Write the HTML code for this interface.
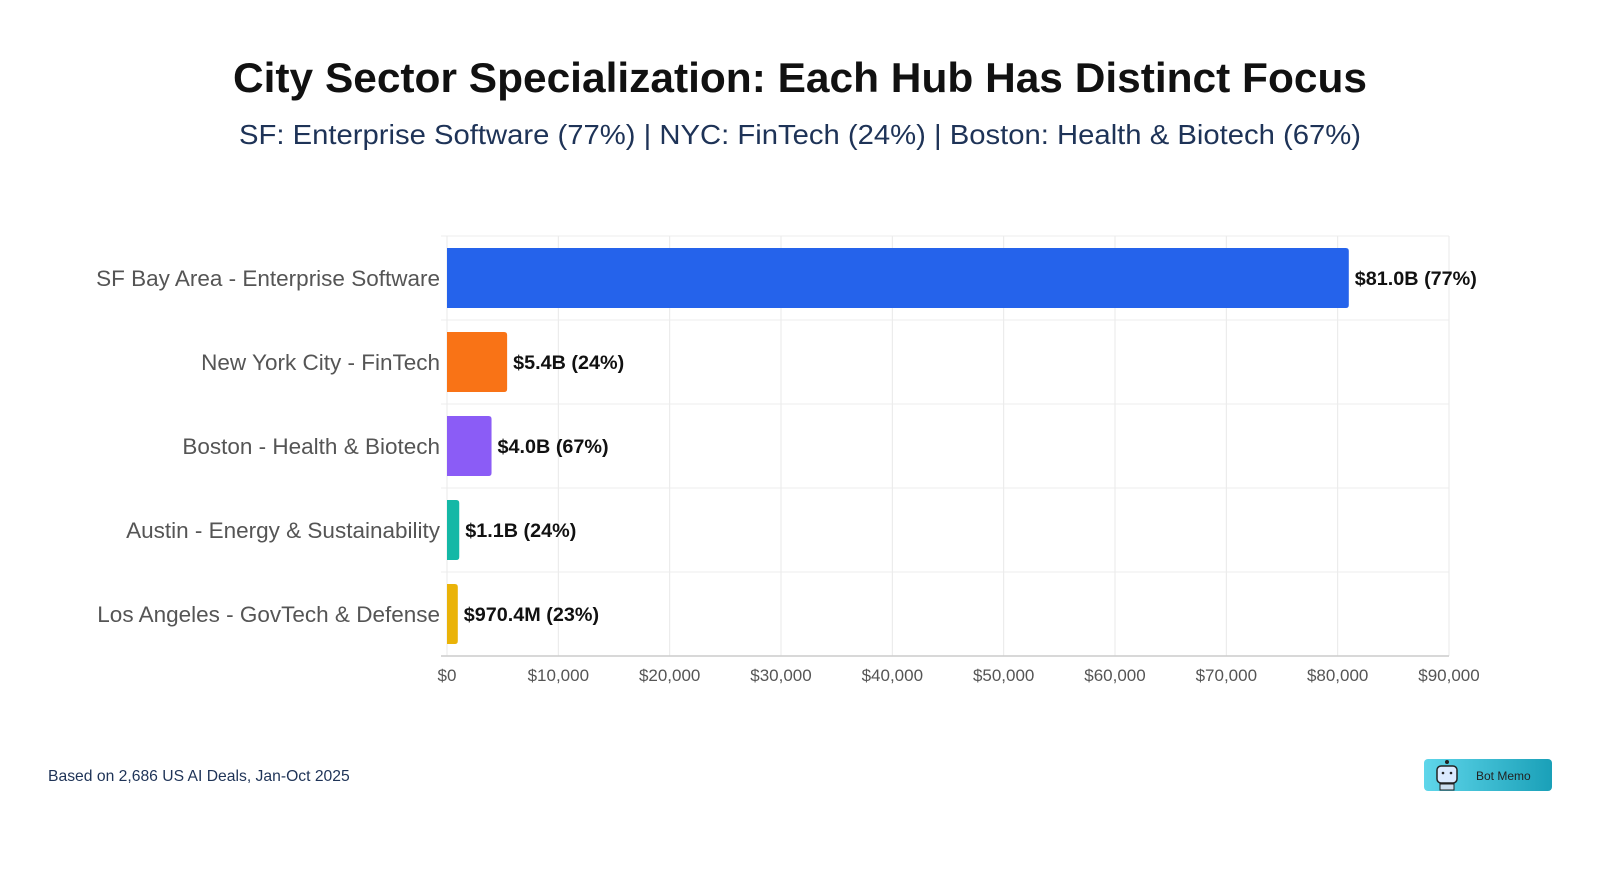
<!DOCTYPE html>
<html><head><meta charset="utf-8"><style>
body{margin:0;background:#fff;width:1600px;height:880px;overflow:hidden;font-family:"Liberation Sans",sans-serif}
</style></head><body>
<svg id="chart" width="1600" height="880" xmlns="http://www.w3.org/2000/svg">
<text x="800" y="92" text-anchor="middle" font-size="42" font-weight="bold" fill="#111" textLength="1134" lengthAdjust="spacingAndGlyphs">City Sector Specialization: Each Hub Has Distinct Focus</text>
<text x="800" y="144" text-anchor="middle" font-size="28" fill="#1e3357" textLength="1122" lengthAdjust="spacingAndGlyphs">SF: Enterprise Software (77%) | NYC: FinTech (24%) | Boston: Health &amp; Biotech (67%)</text>
<g id="grid"></g>
<g id="bars"></g>
<g id="xaxis"></g>
<text x="48" y="781" font-size="15.7" fill="#1e3357">Based on 2,686 US AI Deals, Jan-Oct 2025</text>
<g>
<defs><linearGradient id="bg" x1="0" x2="1"><stop offset="0" stop-color="#5fd6ea"/><stop offset="1" stop-color="#1aa0b8"/></linearGradient></defs>
<rect x="1424" y="759" width="128" height="32" rx="4" fill="url(#bg)"/>
<rect x="1437" y="766" width="20" height="17" rx="4" fill="#dbeaff" stroke="#222" stroke-width="1.5"/>
<circle cx="1447" cy="762" r="2" fill="#222"/>
<circle cx="1443" cy="773" r="1.3" fill="#222"/><circle cx="1451" cy="773" r="1.3" fill="#222"/>
<rect x="1440" y="784" width="14" height="6" fill="#cde" stroke="#222" stroke-width="1"/>
<text x="1476" y="780" font-size="12" fill="#222">Bot Memo</text>
</g>
</svg>
<script>
const categories=["SF Bay Area - Enterprise Software","New York City - FinTech","Boston - Health & Biotech","Austin - Energy & Sustainability","Los Angeles - GovTech & Defense"];
const values=[81000,5400,4000,1100,970.4];
const valueLabels=["$81.0B (77%)","$5.4B (24%)","$4.0B (67%)","$1.1B (24%)","$970.4M (23%)"];
const colors=["#2563eb","#f97316","#8b5cf6","#14b8a6","#eab308"];
const ticks=[0,10000,20000,30000,40000,50000,60000,70000,80000,90000];
const tickLabels=["$0","$10,000","$20,000","$30,000","$40,000","$50,000","$60,000","$70,000","$80,000","$90,000"];
const NS="http://www.w3.org/2000/svg";
const X0=447,X1=1449,Y0=236,Y1=656,band=(Y1-Y0)/categories.length,pad=12;
const xs=v=>X0+(v/90000)*(X1-X0);
function mk(t,a,p){const e=document.createElementNS(NS,t);for(const k in a)e.setAttribute(k,a[k]);p.appendChild(e);return e;}
const grid=document.getElementById('grid'),bars=document.getElementById('bars'),xa=document.getElementById('xaxis');
ticks.forEach((t,i)=>{
 const l=mk('line',{x1:xs(t),x2:xs(t),y1:Y0,y2:Y1,stroke:"#e8e8e8","stroke-width":1},grid);
 
 
 const tx=mk('text',{x:xs(t),y:Y1+25,"text-anchor":"middle","font-size":17,fill:"#555"},xa);
 tx.textContent=tickLabels[i];
 
 
});
for(let i=0;i<=categories.length;i++){
 const l=mk('line',{x1:X0-6,x2:X1,y1:Y0+i*band,y2:Y0+i*band,stroke:i==categories.length?"#ccc":"#ececec","stroke-width":i==categories.length?1.5:1},grid);
 
 
}
categories.forEach((c,i)=>{
 const y=Y0+i*band+pad,h=band-2*pad,w=xs(values[i])-X0;
 const r=mk('path',{d:`M${X0},${y}H${X0+w-3}Q${X0+w},${y} ${X0+w},${y+3}V${y+h-3}Q${X0+w},${y+h} ${X0+w-3},${y+h}H${X0}Z`,fill:colors[i]},bars);
 
 
 const lb=mk('text',{x:440,y:y+h/2+8,"text-anchor":"end","font-size":22.5,fill:"#555"},bars);
 lb.textContent=c;
 
 
 const vl=mk('text',{x:X0+w+6,y:y+h/2+7,"font-size":19.8,"font-weight":"bold",fill:"#111"},bars);
 vl.textContent=valueLabels[i];
 
 
});
</script>
</body></html>
